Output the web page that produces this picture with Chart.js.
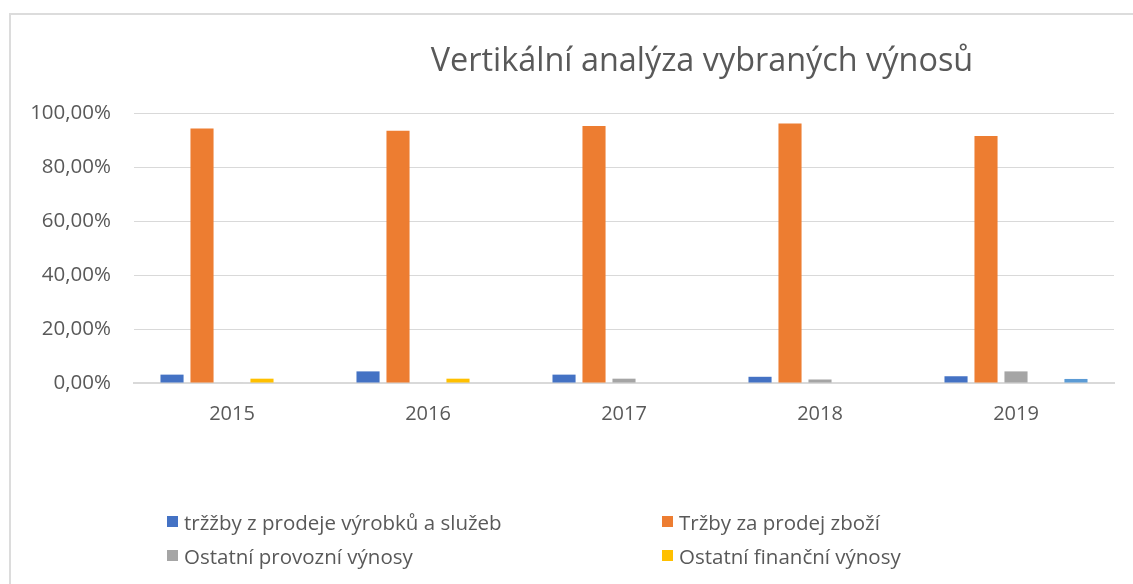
<!DOCTYPE html>
<html>
<head>
<meta charset="utf-8">
<script src="https://cdn.jsdelivr.net/npm/chart.js@4.4.0/dist/chart.umd.min.js"></script>
<style>
html,body{margin:0;padding:0;background:#fff;overflow:hidden;width:1133px;height:584px;}
#frame{position:absolute;left:9px;top:13px;width:1300px;height:700px;border:2px solid #dcdcdc;box-sizing:border-box;}
#wrap{position:absolute;left:0;top:0;width:1133px;height:584px;}
#title{position:absolute;left:0;top:36px;width:1404px;text-align:center;font-family:'Open Sans',sans-serif;font-size:32.4px;line-height:44px;color:#595959;white-space:nowrap;}
.lg{position:absolute;font-family:'Open Sans',sans-serif;font-size:20.5px;line-height:24px;color:#595959;white-space:nowrap;}
.lg span.sw{position:absolute;left:0;top:6px;width:11px;height:11px;}
.lg span.tx{position:absolute;left:17px;top:0;}
</style>
</head>
<body>
<div id="frame"></div>
<div id="wrap"><canvas id="c" width="1133" height="584"></canvas></div>
<div id="title">Vertikální analýza vybraných výnosů</div>
<div id="legend"></div>
<script>
const categories = ['2015', '2016', '2017', '2018', '2019'];
const seriesNames = ['tržžby z prodeje výrobků a služeb', 'Tržby za prodej zboží', 'Ostatní provozní výnosy', 'Ostatní finanční výnosy', 'Ostatní výnosy'];
const seriesColors = ['#4472C4', '#ED7D31', '#A5A5A5', '#FFC000', '#5B9BD5'];
const trzbyVyrobky = [3.1, 4.3, 3.1, 2.3, 2.5];
const trzbyZbozi = [94.3, 93.4, 95.2, 96.1, 91.5];
const ostatniProvozni = [0.2, 0, 1.6, 1.3, 4.3];
const ostatniFinancni = [1.6, 1.6, 0, 0, 0];
const dalsiVynosy = [0, 0, 0, 0, 1.5];
const yTicks = [0, 20, 40, 60, 80, 100];
const legendShown = [0, 1, 2, 3];

const seriesValues = [trzbyVyrobky, trzbyZbozi, ostatniProvozni, ostatniFinancni, dalsiVynosy];

const datasets = seriesValues.map((vals, i) => ({
  label: seriesNames[i],
  data: vals,
  backgroundColor: seriesColors[i],
  borderWidth: 0,
  categoryPercentage: 0.765,
  barPercentage: 0.77
}));

new Chart(document.getElementById('c'), {
  type: 'bar',
  data: { labels: categories, datasets: datasets },
  options: {
    responsive: false,
    animation: false,
    devicePixelRatio: 1,
    layout: { padding: { left: 0, right: 19, top: 113, bottom: 141 } },
    plugins: { legend: { display: false }, title: { display: false }, tooltip: { enabled: false } },
    scales: {
      x: {
        grid: { display: false, drawTicks: false },
        border: { display: true, color: '#d9d9d9', width: 2 },
        ticks: { color: '#595959', font: { family: 'Open Sans', size: 20 }, padding: 19 },
        afterFit: s => { s.height = 60; }
      },
      y: {
        min: 0, max: 100,
        afterBuildTicks: s => { s.ticks = yTicks.map(v => ({ value: v })); },
        grid: { color: '#d9d9d9', lineWidth: 1, drawTicks: false },
        border: { display: false },
        ticks: {
          color: '#595959', font: { family: 'Open Sans', size: 20.5 }, padding: 23,
          callback: v => v.toFixed(2).replace('.', ',') + '%'
        },
        afterFit: s => { s.width = 134; }
      }
    }
  }
});

const lgPos = [[167, 510], [662, 510], [167, 544], [662, 544]];
const lg = document.getElementById('legend');
legendShown.forEach((si, k) => {
  const d = document.createElement('div');
  d.className = 'lg';
  d.style.left = lgPos[k][0] + 'px';
  d.style.top = lgPos[k][1] + 'px';
  d.innerHTML = '<span class="sw" style="background:' + seriesColors[si] + '"></span><span class="tx"></span>';
  d.querySelector('.tx').textContent = seriesNames[si];
  lg.appendChild(d);
});
</script>
</body>
</html>
